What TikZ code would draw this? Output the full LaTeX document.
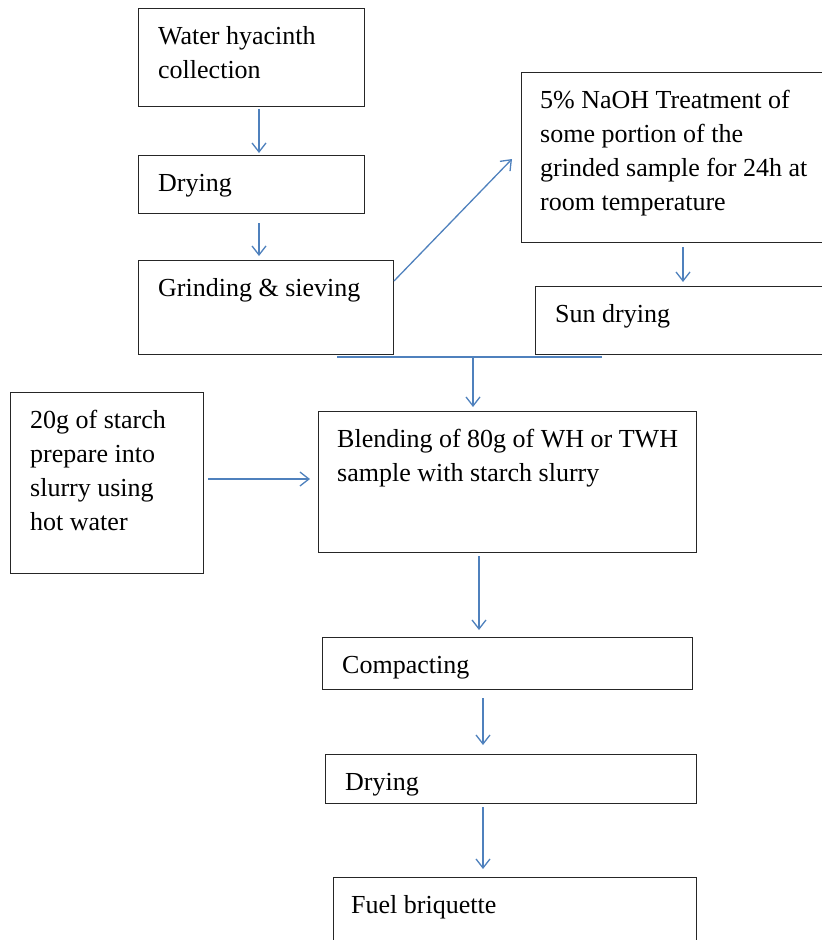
\documentclass[tikz,border=0pt]{standalone}
\usepackage{fontspec}
\setmainfont{Liberation Serif}
\usetikzlibrary{arrows.meta,calc}
\definecolor{arr}{RGB}{79,129,189}
\tikzset{
 box/.style={draw=black!85, line width=1pt, rectangle, inner sep=0pt, anchor=north west},
 txt/.style={anchor=north west, inner sep=0pt, align=left, font=\fontsize{26}{34}\selectfont},
 flow/.style={draw=arr, line width=1.3pt, -{Straight Barb[length=9pt,width=14pt,line width=1.3pt]}},
 link/.style={draw=arr, line width=1.3pt}
}
\begin{document}
\begin{tikzpicture}[x=1pt,y=-1pt]
\useasboundingbox (0,0) rectangle (822,940);
\clip (0,0) rectangle (822,940);
% boxes
\node[box, minimum width=226pt, minimum height=98pt]  (b1)  at (138,8)   {};
\node[box, minimum width=226pt, minimum height=58pt]  (b2)  at (138,155) {};
\node[box, minimum width=255pt, minimum height=94pt]  (b3)  at (138,260) {};
\node[box, minimum width=320pt, minimum height=170pt] (b4)  at (521,72)  {};
\node[box, minimum width=310pt, minimum height=68pt]  (b5)  at (535,286) {};
\node[box, minimum width=193pt, minimum height=181pt] (b6)  at (10,392)  {};
\node[box, minimum width=378pt, minimum height=141pt] (b7)  at (318,411) {};
\node[box, minimum width=370pt, minimum height=52pt]  (b8)  at (322,637) {};
\node[box, minimum width=371pt, minimum height=49pt]  (b9)  at (325,754) {};
\node[box, minimum width=363pt, minimum height=100pt] (b10) at (333,877) {};
% texts
\node[txt] (t1)  at ($(b1.north west)+(20,12)$)  {\strut Water hyacinth\\collection};
\node[txt] (t2)  at ($(b2.north west)+(20,12)$)  {\strut Drying};
\node[txt] (t3)  at ($(b3.north west)+(20,12)$)  {\strut Grinding \& sieving};
\node[txt] (t4)  at ($(b4.north west)+(19,12)$)  {\strut 5\% NaOH Treatment of\\some portion of the\\grinded sample for 24h at\\room temperature};
\node[txt] (t5)  at ($(b5.north west)+(20,12)$)  {\strut Sun drying};
\node[txt] (t6)  at ($(b6.north west)+(20,12)$)  {\strut 20g of starch\\prepare into\\slurry using\\hot water};
\node[txt] (t7)  at ($(b7.north west)+(19,12)$)  {\strut Blending of 80g of WH or TWH\\sample with starch slurry};
\node[txt] (t8)  at ($(b8.north west)+(20,12)$)  {\strut Compacting};
\node[txt] (t9)  at ($(b9.north west)+(20,12)$)  {\strut Drying};
\node[txt] (t10) at ($(b10.north west)+(18,12)$) {\strut Fuel briquette};
% junction
\coordinate (j1) at ($(b3.south west)+(199,2)$);
\coordinate (j2) at ($(b5.south west)+(67,2)$);
\coordinate (jm) at ($(b7.north west)+(155,-55)$);
\draw[link] (j1) -- (j2);
% connectors
\draw[flow] ($(b1.south west)+(121,2)$) -- ($(b2.north west)+(121,-2)$);
\draw[flow] ($(b2.south west)+(121,9)$) -- ($(b3.north west)+(121,-4)$);
\draw[flow] ($(b3.north east)+(0,21)$) -- ($(b4.north west)+(-9,87)$);
\draw[flow] ($(b4.south west)+(162,4)$) -- ($(b5.north west)+(148,-4)$);
\draw[flow] (jm) -- ($(b7.north west)+(155,-4)$);
\draw[flow] ($(b6.north east)+(4,87)$) -- ($(b7.north west)+(-8,68)$);
\draw[flow] ($(b7.south west)+(161,3)$) -- ($(b8.north west)+(157,-7)$);
\draw[flow] ($(b8.south west)+(161,8)$) -- ($(b9.north west)+(158,-9)$);
\draw[flow] ($(b9.south west)+(158,3)$) -- ($(b10.north west)+(150,-8)$);
\end{tikzpicture}
\end{document}
